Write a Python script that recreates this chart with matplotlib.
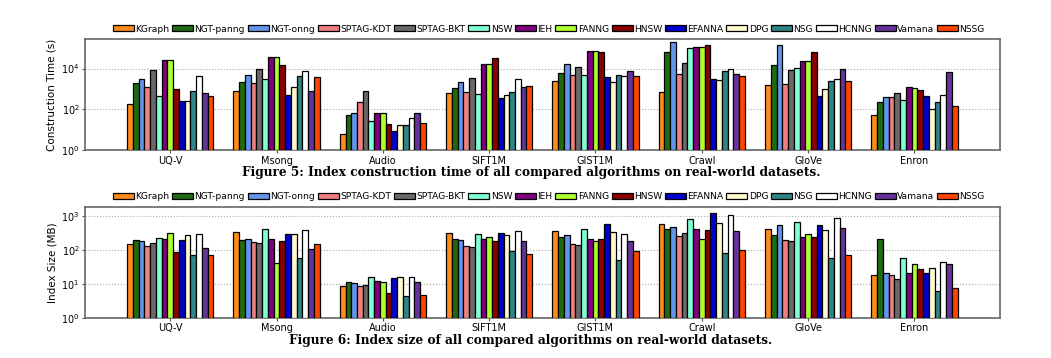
import numpy as np
import matplotlib
matplotlib.use('Agg')
import matplotlib.pyplot as plt
from matplotlib.ticker import FixedLocator, LogFormatterMathtext, NullLocator

# datos
datasets = ['UQ-V', 'Msong', 'Audio', 'SIFT1M', 'GIST1M', 'Crawl', 'GloVe', 'Enron']
algos = ['KGraph', 'NGT-panng', 'NGT-onng', 'SPTAG-KDT', 'SPTAG-BKT', 'NSW', 'IEH',
         'FANNG', 'HNSW', 'EFANNA', 'DPG', 'NSG', 'HCNNG', 'Vamana', 'NSSG']
colors = ['#ff8c1a', '#1f6b14', '#6495ed', '#f08080', '#696969', '#7fffd4', '#800080',
          '#adff2f', '#8b0000', '#0000cd', '#fffacd', '#2e8585', '#ffffff', '#663399', '#ff4500']

# tiempo de construccion (s), una fila por algoritmo, columnas = datasets
build_time = [
    [190, 830, 5.2, 630, 2500, 740, 1600, 50],            # KGraph
    [2000, 2150, 50, 1120, 6000, 68000, 14600, 225],      # NGT-panng
    [3200, 5000, 68, 2100, 16500, 190000, 147000, 415],   # NGT-onng
    [1300, 2000, 230, 680, 5000, 5200, 1650, 400],        # SPTAG-KDT
    [8300, 10000, 830, 3400, 12000, 19000, 8000, 600],    # SPTAG-BKT
    [460, 2900, 25, 590, 4600, 100000, 10800, 280],       # NSW
    [27000, 35000, 63, 16000, 76000, 112000, 23000, 1170],  # IEH
    [27000, 35000, 63, 16500, 76000, 112000, 23000, 1120],  # FANNG
    [1000, 14600, 18, 34000, 63000, 147000, 68000, 930],  # HNSW
    [260, 500, 8, 370, 3700, 3200, 450, 460],             # EFANNA
    [260, 1200, 15, 480, 2150, 2600, 1000, 100],          # DPG
    [830, 4300, 16.5, 740, 5000, 7400, 2400, 230],        # NSG
    [4100, 7400, 37, 3200, 4100, 9300, 3000, 500],        # HCNNG
    [600, 770, 63, 1200, 7600, 5200, 9300, 6800],         # Vamana
    [460, 4000, 21, 1350, 4300, 4100, 2400, 140],         # NSSG
]

# tamaño del indice (MB)
index_size = [
    [150, 355, 7.8, 320, 360, 580, 435, 18],              # KGraph
    [200, 205, 10.2, 215, 245, 435, 290, 210],            # NGT-panng
    [187, 210, 9.4, 200, 280, 500, 550, 19.6],            # NGT-onng
    [134, 176, 8, 134, 147, 265, 205, 17],                # SPTAG-KDT
    [165, 160, 8.5, 125, 137, 320, 192, 13.4],            # SPTAG-BKT
    [225, 435, 15.7, 295, 435, 850, 700, 56],             # NSW
    [210, 210, 11.7, 215, 210, 425, 250, 20.5],           # IEH
    [330, 40, 10.2, 250, 180, 215, 310, 39],              # FANNG
    [85, 192, 4.5, 187, 220, 400, 250, 26],               # HNSW
    [205, 310, 14, 330, 590, 1250, 565, 19.6],            # EFANNA
    [280, 295, 15, 275, 345, 620, 405, 29],               # DPG
    [73, 59, 3.5, 91, 50, 80, 57, 5.3],                   # NSG
    [300, 405, 15.7, 370, 310, 1100, 870, 45],            # HCNNG
    [112, 110, 10.2, 180, 183, 360, 465, 39],             # Vamana
    [73, 147, 3.8, 75, 95, 102, 70, 6.9],                 # NSSG
]

fig = plt.figure(figsize=(10.51, 3.58), dpi=100)
ax1 = fig.add_axes([0.081, 0.581, 0.870, 0.310])
ax2 = fig.add_axes([0.081, 0.112, 0.870, 0.310])

x = np.arange(len(datasets))
n = len(algos)
w = 0.054


def draw(ax, data, ylabel, ylim, ticks):
    for i in range(n):
        off = (i - (n - 1) / 2) * w
        ax.bar(x + off, data[i], width=w, bottom=1, color=colors[i], edgecolor='black',
               linewidth=0.9, label=algos[i], zorder=3)
    ax.set_yscale('log')
    ax.set_ylim(ylim)
    ax.set_xlim(-0.8, 7.8)
    ax.yaxis.set_major_locator(FixedLocator(ticks))
    ax.yaxis.set_major_formatter(LogFormatterMathtext())
    ax.yaxis.set_minor_locator(NullLocator())
    ax.set_xticks(x)
    ax.set_xticklabels(datasets)
    ax.tick_params(labelsize=7, length=2, color='#555555', pad=2)
    ax.set_ylabel(ylabel, fontsize=7.5, labelpad=3)
    ax.grid(axis='y', linestyle=':', color='#aaaaaa', linewidth=0.8, zorder=0)
    for s in ax.spines.values():
        s.set_color('#666666')
        s.set_linewidth(1.2)
    ax.legend(loc='lower center', bbox_to_anchor=(0.507, 1.0), ncol=n, frameon=False,
              fontsize=6.6, handlelength=2.3, handleheight=0.6, handletextpad=0.15,
              columnspacing=0.3, borderaxespad=0.2)


draw(ax1, build_time, 'Construction Time (s)', (1, 2.8e5), [1, 1e2, 1e4])
draw(ax2, index_size, 'Index Size (MB)', (1, 1.9e3), [1, 10, 100, 1000])

fig.text(0.505, 0.517, 'Figure 5: Index construction time of all compared algorithms on real-world datasets.',
         ha='center', va='center', fontsize=8.7, fontweight='bold', family='DejaVu Serif')
fig.text(0.505, 0.05, 'Figure 6: Index size of all compared algorithms on real-world datasets.',
         ha='center', va='center', fontsize=8.7, fontweight='bold', family='DejaVu Serif')

fig.savefig('out.png', dpi=100)
